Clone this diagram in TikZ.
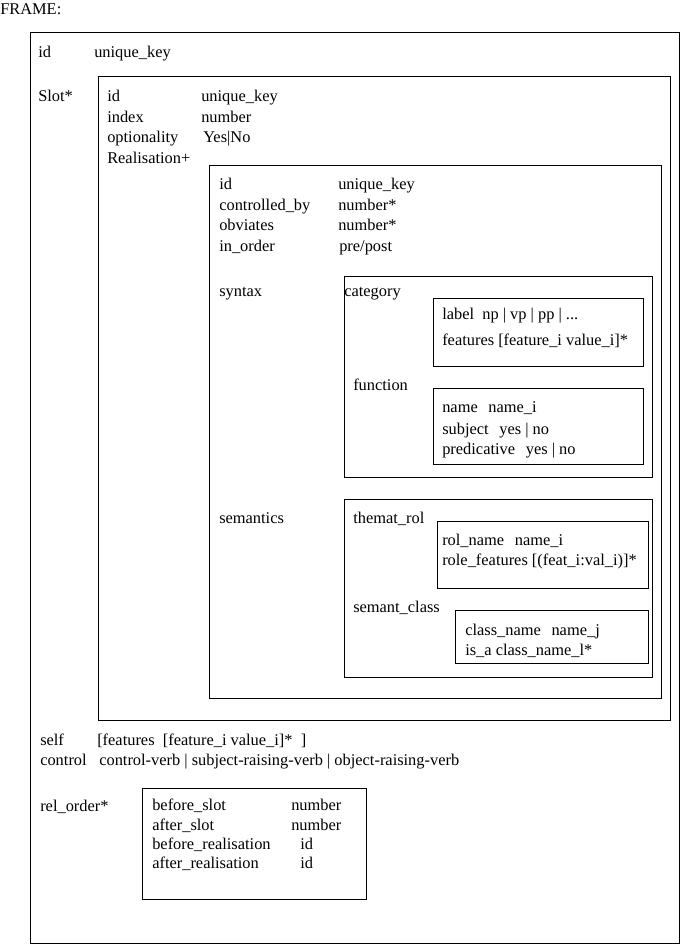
\documentclass[tikz,border=0pt]{standalone}
\usepackage{fontspec}
\setmainfont{Liberation Serif}

\begin{document}
\begin{tikzpicture}[x=0.75pt,y=-0.75pt,
    txt/.style={anchor=base west,inner sep=0pt,yshift=-1.5pt,font=\fontsize{12.3}{14}\selectfont},
    frm/.style={draw,line width=0.75pt}]
    \useasboundingbox (0,0) rectangle (680,944);

    \node[txt] (title) at (0,13) {FRAME:};
    \draw[frm] (30,33) rectangle (679,943);
    \node[txt] (fid) at (38,56) {id};
    \node[txt] (fidv) at (94,56) {unique\_key};
    \node[txt] (slot) at (38,100) {Slot*};

    \draw[frm] (98,77) rectangle (670,720);
    \node[txt] (sid) at (107,100) {id};
    \node[txt] (sidv) at (201,100) {unique\_key};
    \node[txt] (sindex) at (107,121) {index};
    \node[txt] (sindexv) at (201,121) {number};
    \node[txt] (sopt) at (107,141) {optionality};
    \node[txt] (soptv) at (203,141) {Yes|No};
    \node[txt] (sreal) at (107,162) {Realisation+};

    \draw[frm] (209,166) rectangle (661,698);
    \node[txt] (rid) at (219,188) {id};
    \node[txt] (ridv) at (338,188) {unique\_key};
    \node[txt] (rctl) at (219,208.5) {controlled\_by};
    \node[txt] (rctlv) at (338,208.5) {number*};
    \node[txt] (robv) at (219,229) {obviates};
    \node[txt] (robvv) at (338,229) {number*};
    \node[txt] (rord) at (219,250) {in\_order};
    \node[txt] (rordv) at (339,250) {pre/post};

    \node[txt] (syn) at (219,295) {syntax};
    \draw[frm] (344,277) rectangle (652,477);
    \node[txt] (cat) at (344,295) {category};
    \draw[frm] (433,299) rectangle (643,366);
    \node[txt] (catl) at (442,318) {label\ \ np | vp | pp | ...};
    \node[txt] (catf) at (442,343) {features [feature\_i value\_i]*};
    \node[txt] (fun) at (353,388) {function};
    \draw[frm] (433,388) rectangle (643,464);
    \node[txt] (funn) at (442,410) {name\hspace{8pt}name\_i};
    \node[txt] (funs) at (442,432) {subject\hspace{8pt}yes | no};
    \node[txt] (funp) at (442,452) {predicative\hspace{8pt}yes | no};

    \node[txt] (sem) at (219,521) {semantics};
    \draw[frm] (344,499) rectangle (652,677);
    \node[txt] (them) at (353,521) {themat\_rol};
    \draw[frm] (437,521) rectangle (648,588);
    \node[txt] (themn) at (442,543) {rol\_name\hspace{8pt}name\_i};
    \node[txt] (themf) at (442,563) {role\_features [(feat\_i:val\_i)]*};
    \node[txt] (scls) at (353,610) {semant\_class};
    \draw[frm] (455,610) rectangle (648,663);
    \node[txt] (sclsn) at (465,633) {class\_name\hspace{8pt}name\_j};
    \node[txt] (sclsi) at (465,653) {is\_a class\_name\_l*};

    \node[txt] (self) at (40,743) {self};
    \node[txt] (selfv) at (97,743) {[features\ \ [feature\_i value\_i]*\ \ ]};
    \node[txt] (ctl) at (40,763) {control};
    \node[txt] (ctlv) at (99,763) {control-verb | subject-raising-verb | object-raising-verb};

    \node[txt] (rel) at (40,809) {rel\_order*};
    \draw[frm] (142,788) rectangle (366,899);
    \node[txt] (bslot) at (152,808) {before\_slot};
    \node[txt] (bslotv) at (291,808) {number};
    \node[txt] (aslot) at (152,828) {after\_slot};
    \node[txt] (aslotv) at (291,828) {number};
    \node[txt] (breal) at (152,847) {before\_realisation};
    \node[txt] (brealv) at (300,847) {id};
    \node[txt] (areal) at (152,866) {after\_realisation};
    \node[txt] (arealv) at (300,866) {id};
\end{tikzpicture}
\end{document}
